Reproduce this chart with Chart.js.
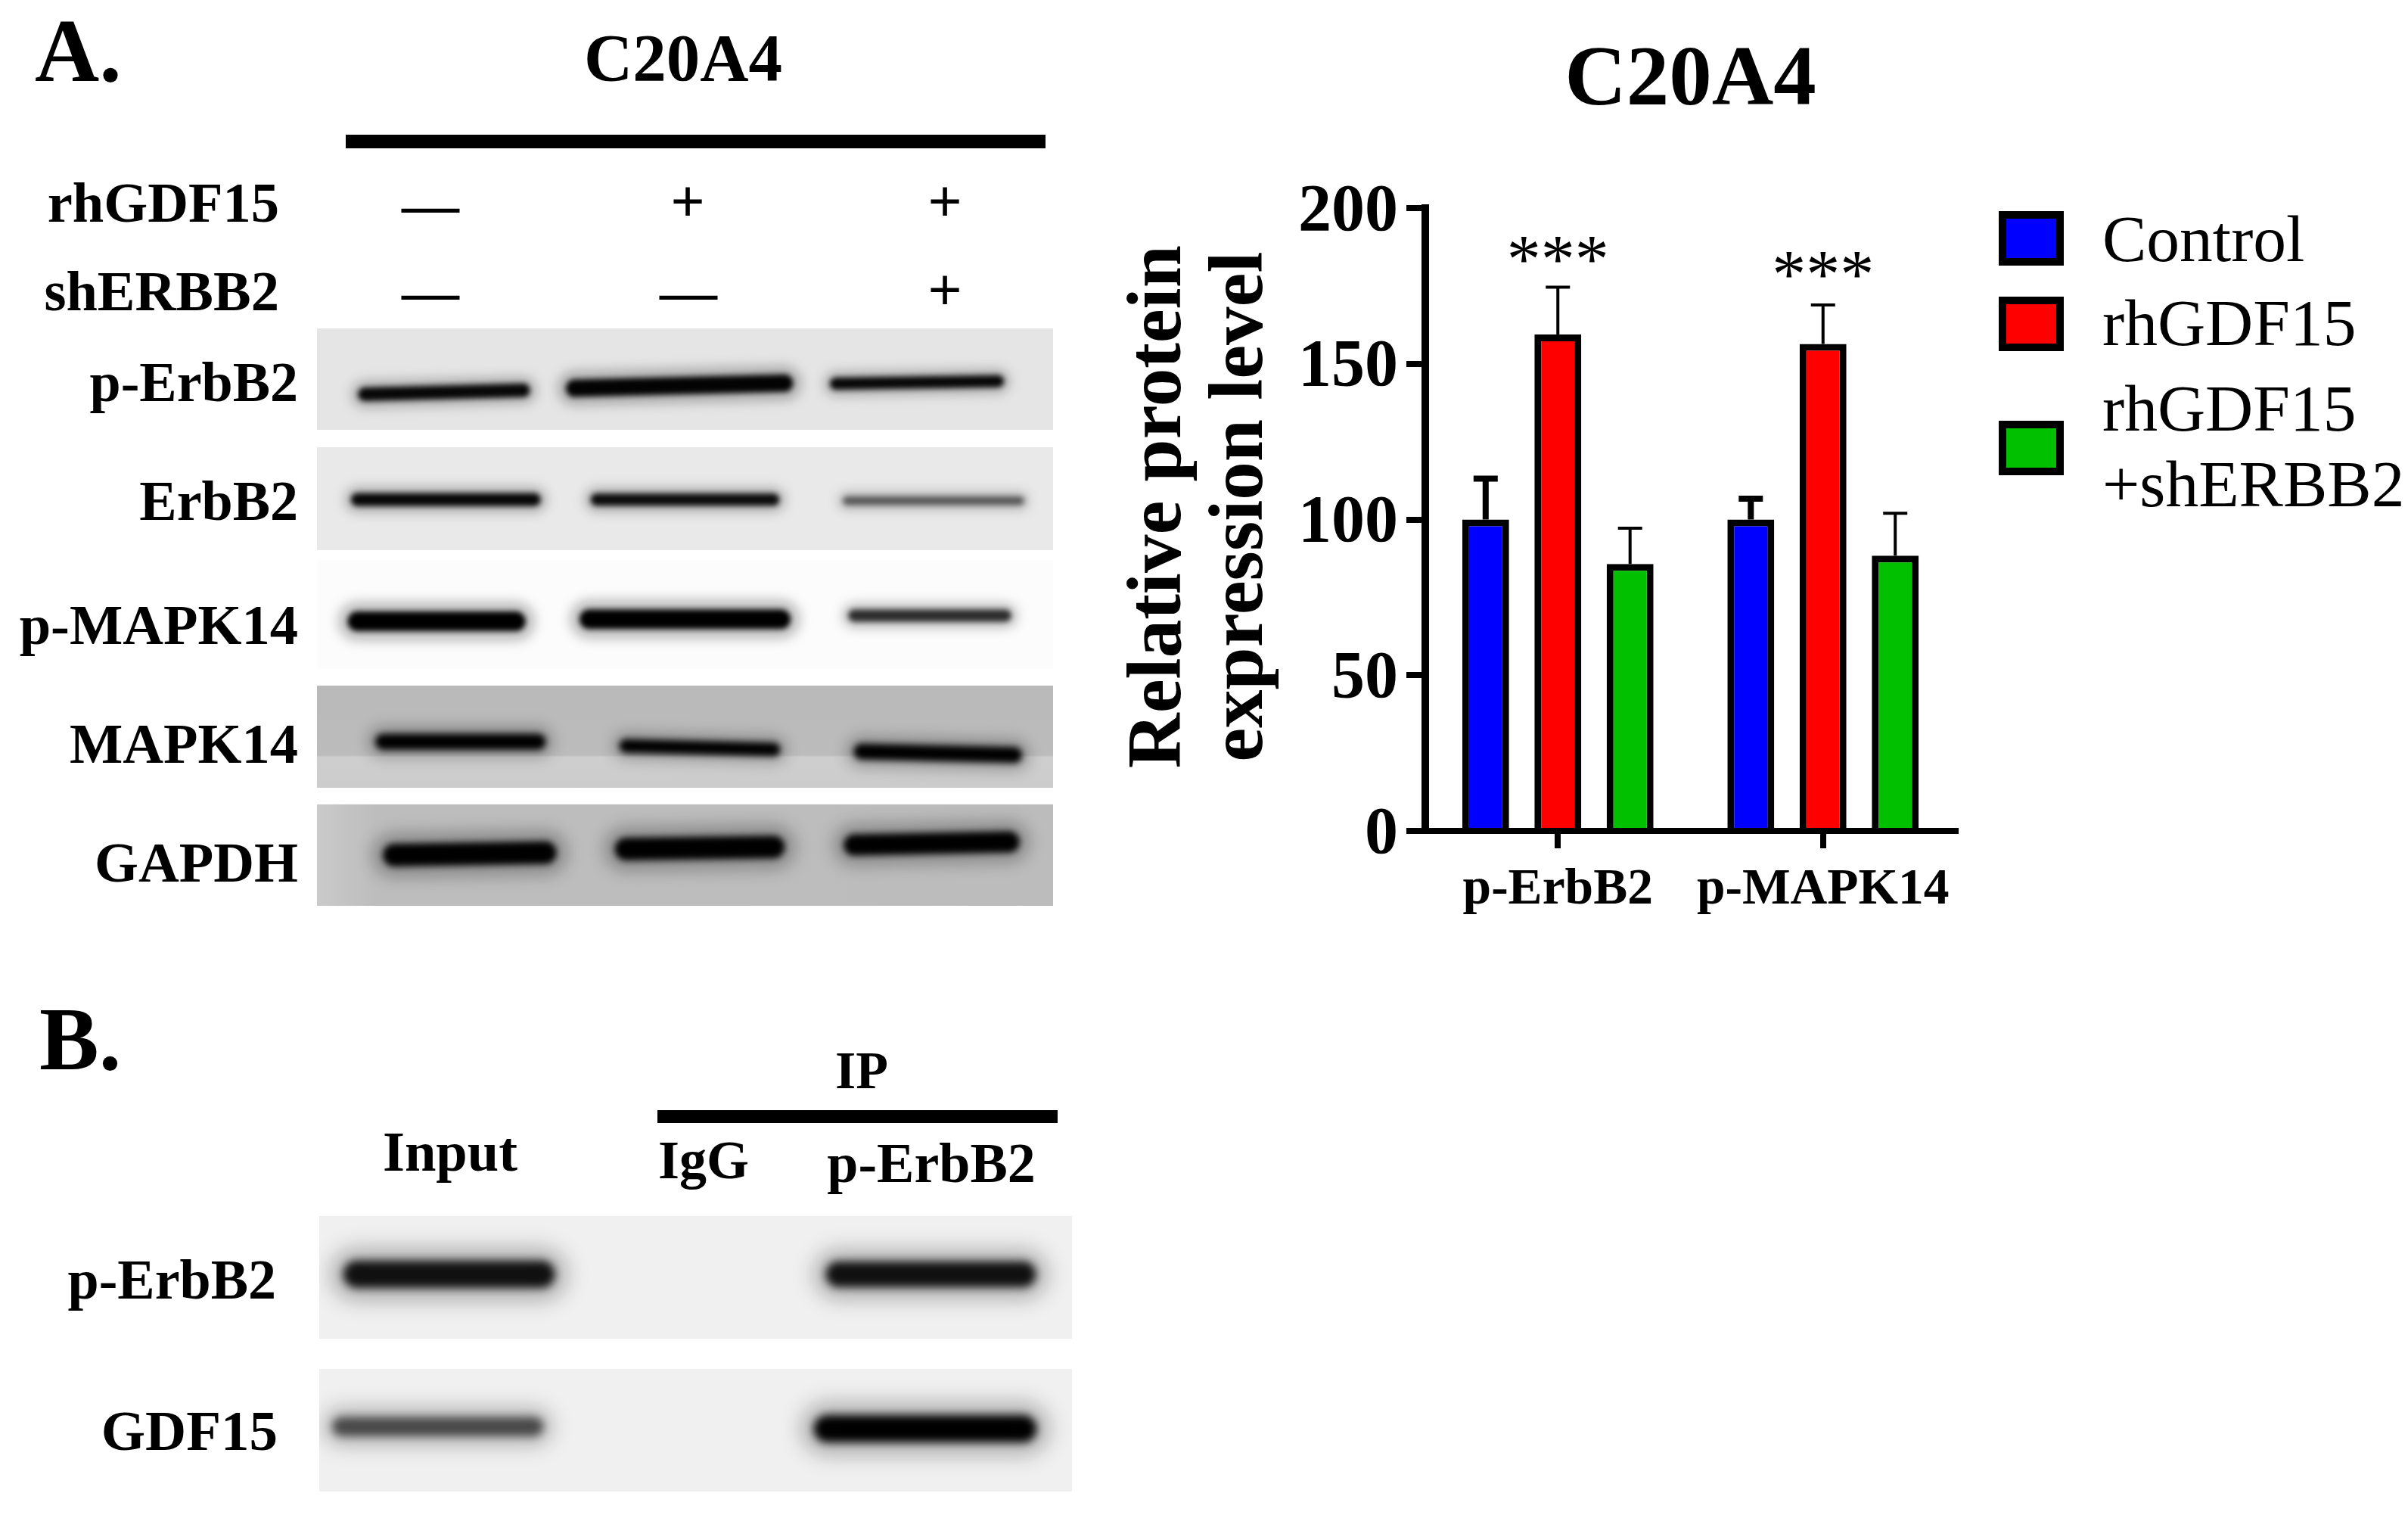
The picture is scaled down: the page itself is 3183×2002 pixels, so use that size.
<!DOCTYPE html>
<html>
<head>
<meta charset="utf-8">
<title>C20A4</title>
<script src="https://cdn.jsdelivr.net/npm/chart.js@4"></script>
<style>
  html, body { margin: 0; padding: 0; background: #fff; }
  body { position: relative; width: 3183px; height: 2002px; overflow: hidden; font-family: "Liberation Serif", serif; color: #000; }
  canvas { position: absolute; display: block; }
  .label { position: absolute; line-height: 0; white-space: nowrap; }
  .rule, .swatch { position: absolute; box-sizing: border-box; }
  .rule { background: #000; }
  .swatch { border: 10px solid #000; }
</style>
</head>
<body>
<canvas id="bar-chart" width="1743" height="1240" style="left:1440px;top:0"></canvas>
<script>
// Bar chart values
const categories = ['p-ErbB2', 'p-MAPK14'];
const seriesNames = ['Control', 'rhGDF15', 'rhGDF15 +shERBB2'];
const controlValues = [100, 100];
const rhgdf15Values = [159.4, 156.4];
const shErbb2Values = [85.7, 88.4];
const controlErrorTops = [113.1, 106.7];
const rhgdf15ErrorTops = [174.6, 168.9];
const shErbb2ErrorTops = [97.2, 102];
const significance = ['***', '***'];
const significanceLevels = [176.3, 171.3];
const yTicks = [0, 50, 100, 150, 200];
const seriesColors = ['#0000ff', '#ff0000', '#00c000'];
const errorWidths = [8, 4, 4];

// Blot bands, in percent of the gel panel: [x start, y start, x end, y end]
const pErbB2Bands = [[6.5, 65, 28, 61], [35, 59, 63.5, 54], [70.5, 54.5, 92.5, 52]];
const erbB2Bands = [[5.5, 51, 29.5, 51], [38, 51, 62, 51], [72, 52, 95.5, 52]];
const pMapk14Bands = [[5.5, 56.3, 27, 56.3], [37, 54.3, 63, 54.3], [73, 51, 93.5, 51]];
const mapk14Bands = [[9, 55, 30, 55], [42, 59, 62, 62.5], [74, 64.7, 94.7, 68]];
const gapdhBands = [[10.5, 50, 31, 47.6], [42, 44, 62, 42], [73, 40, 94, 37]];
const ipErbB2Bands = [[5, 47.5, 29.5, 47.5], [69, 47.5, 93.5, 47.5]];
const ipGdf15Bands = [[3, 47, 28.5, 47], [67.5, 48.8, 93.5, 48.8]];

const FONT = '"Liberation Serif", serif';

// Gel panels: where they sit, and how each band is drawn (width in px, gray)
const blotPanels = [
  { bands: pErbB2Bands, left: 419, top: 434, width: 973, height: 134, bg: '#e5e5e5', widths: [18, 23, 16], colors: ['#0a0a0a', '#050505', '#0a0a0a'], blur: 3.5 },
  { bands: erbB2Bands, left: 419, top: 591, width: 973, height: 136, bg: '#e9e9e9', widths: [17, 16, 11], colors: ['#0a0a0a', '#0f0f0f', '#707070'], blur: 3.5 },
  { bands: pMapk14Bands, left: 419, top: 740, width: 973, height: 144, bg: '#fcfcfc', widths: [26, 26, 16], colors: ['#000', '#000', '#3c3c3c'], blur: 3.5 },
  { bands: mapk14Bands, left: 419, top: 906, width: 973, height: 135, bg: 'linear-gradient(#b9b9b9 0%, #bcbcbc 68%, #cecece 70%, #cccccc 100%)', widths: [21, 18, 21], colors: ['#000', '#000', '#000'], blur: 4 },
  { bands: gapdhBands, left: 419, top: 1063, width: 973, height: 134, bg: 'linear-gradient(90deg, #cacaca 0%, #bdbdbd 8%, #bcbcbc 100%)', widths: [30, 30, 28], colors: ['#000', '#000', '#000'], blur: 4.5 },
  { bands: ipErbB2Bands, left: 422, top: 1607, width: 995, height: 162, bg: '#f0f0f0', widths: [36, 34], colors: ['#161616', '#161616'], blur: 6 },
  { bands: ipGdf15Bands, left: 422, top: 1809, width: 995, height: 162, bg: '#f0f0f0', widths: [25, 36], colors: ['#606060', '#000'], blur: 6 }
];

// Text around the blots: [text, x, baseline y, font size, anchor, weight]
const figureLabels = [
  ['A.', 46, 108, 118, 'left', 'bold'],
  ['C20A4', 903, 106, 89, 'center', 'bold'],
  ['rhGDF15', 369, 293, 74.5, 'right', 'bold'],
  ['shERBB2', 369, 410, 74.5, 'right', 'bold'],
  ['\u2014', 569, 296, 76, 'center', 'bold'],
  ['+', 909, 293, 80, 'center', 'bold'],
  ['+', 1249, 293, 80, 'center', 'bold'],
  ['\u2014', 569, 411, 76, 'center', 'bold'],
  ['\u2014', 910, 411, 76, 'center', 'bold'],
  ['+', 1249, 410, 80, 'center', 'bold'],
  ['p-ErbB2', 394, 530, 74, 'right', 'bold'],
  ['ErbB2', 394, 687, 74, 'right', 'bold'],
  ['p-MAPK14', 394, 851, 74.5, 'right', 'bold'],
  ['MAPK14', 394, 1008, 74.5, 'right', 'bold'],
  ['GAPDH', 394, 1165, 74.5, 'right', 'bold'],
  ['B.', 52, 1414, 118, 'left', 'bold'],
  ['IP', 1139, 1439, 70, 'center', 'bold'],
  ['Input', 595, 1547, 74.5, 'center', 'bold'],
  ['IgG', 930, 1557, 72, 'center', 'bold'],
  ['p-ErbB2', 1231, 1562, 74, 'center', 'bold'],
  ['p-ErbB2', 365, 1716, 74, 'right', 'bold'],
  ['GDF15', 367, 1916, 75, 'right', 'bold']
];
const figureRules = [
  { left: 457, top: 178, width: 925, height: 18 },
  { left: 869, top: 1467, width: 529, height: 17 }
];

// Legend: wrapped names and where each row sits
const legendLines = [['Control'], ['rhGDF15'], ['rhGDF15', '+shERBB2']];
const legendSwatchTops = [279, 392, 556];
const legendBaselines = [[346], [457], [570, 670]];

// Liberation Serif: with line-height 0 the baseline sits this far under the box top
const BASELINE_SHIFT = 0.3375;

function addLabel(text, x, baseline, size, anchor, weight) {
  const el = document.createElement('div');
  el.className = 'label';
  el.textContent = text;
  el.style.fontSize = size + 'px';
  el.style.fontWeight = weight;
  el.style.top = (baseline - size * BASELINE_SHIFT) + 'px';
  if (anchor === 'right') el.style.right = (3183 - x) + 'px';
  else el.style.left = x + 'px';
  if (anchor === 'center') el.style.transform = 'translateX(-50%)';
  document.body.appendChild(el);
}

function addBox(className, box, background) {
  const el = document.createElement('div');
  el.className = className;
  el.style.left = box.left + 'px';
  el.style.top = box.top + 'px';
  el.style.width = box.width + 'px';
  el.style.height = box.height + 'px';
  if (background) el.style.background = background;
  document.body.appendChild(el);
}

figureLabels.forEach(l => addLabel(l[0], l[1], l[2], l[3], l[4], l[5]));
figureRules.forEach(r => addBox('rule', r));

seriesNames.forEach((name, i) => {
  addBox('swatch', { left: 2642, top: legendSwatchTops[i], width: 86, height: 72 }, seriesColors[i]);
  legendLines[i].forEach((line, j) => addLabel(line, 2779, legendBaselines[i][j], 87.5, 'left', 'normal'));
});

// Soft edges on the gel bands, per dataset
const bandBlur = {
  id: 'bandBlur',
  beforeDatasetDraw(chart, args) {
    chart.ctx.filter = 'blur(' + chart.data.datasets[args.index].blur + 'px)';
  },
  afterDatasetDraw(chart) {
    chart.ctx.filter = 'none';
  }
};

function drawBlot(panel) {
  const canvas = document.createElement('canvas');
  canvas.width = panel.width;
  canvas.height = panel.height;
  canvas.style.left = panel.left + 'px';
  canvas.style.top = panel.top + 'px';
  canvas.style.background = panel.bg;
  document.body.appendChild(canvas);

  const datasets = [];
  panel.bands.forEach((b, i) => {
    const points = [{ x: b[0], y: b[1] }, { x: b[2], y: b[3] }];
    // faint halo first, then the dark core
    datasets.push({ data: points, borderColor: 'rgba(0,0,0,0.25)', borderWidth: panel.widths[i] * 2, blur: panel.blur * 2.2 });
    datasets.push({ data: points, borderColor: panel.colors[i], borderWidth: panel.widths[i], blur: panel.blur });
  });

  new Chart(canvas, {
    type: 'line',
    data: { datasets: datasets },
    options: {
      responsive: false,
      animation: false,
      events: [],
      parsing: false,
      elements: { point: { radius: 0 }, line: { borderCapStyle: 'round', tension: 0 } },
      layout: { padding: 0 },
      plugins: { legend: { display: false }, title: { display: false }, tooltip: { enabled: false } },
      scales: {
        x: { type: 'linear', display: false, min: 0, max: 100 },
        y: { type: 'linear', display: false, min: 0, max: 100, reverse: true }
      }
    },
    plugins: [bandBlur]
  });
}

blotPanels.forEach(drawBlot);

// One-sided error bars and the stars above the red bars
const errorTops = [controlErrorTops, rhgdf15ErrorTops, shErbb2ErrorTops];
const errorBars = {
  id: 'errorBars',
  afterDatasetsDraw(chart) {
    const ctx = chart.ctx;
    const y = chart.scales.y;
    ctx.save();
    ctx.strokeStyle = '#000';
    chart.data.datasets.forEach((ds, i) => {
      ctx.lineWidth = errorWidths[i];
      chart.getDatasetMeta(i).data.forEach((bar, j) => {
        const top = y.getPixelForValue(errorTops[i][j]);
        ctx.beginPath();
        ctx.moveTo(bar.x, y.getPixelForValue(ds.data[j]));
        ctx.lineTo(bar.x, top);
        ctx.moveTo(bar.x - 16, top);
        ctx.lineTo(bar.x + 16, top);
        ctx.stroke();
      });
    });
    ctx.fillStyle = '#000';
    ctx.font = '90px ' + FONT;
    ctx.textAlign = 'center';
    ctx.textBaseline = 'alphabetic';
    const redBars = chart.getDatasetMeta(1).data;
    significance.forEach((mark, j) => {
      ctx.fillText(mark, redBars[j].x, y.getPixelForValue(significanceLevels[j]));
    });
    ctx.restore();
  }
};

function barDataset(i, values) {
  return {
    label: seriesNames[i],
    data: values,
    backgroundColor: seriesColors[i],
    borderColor: '#000',
    borderWidth: 9,
    borderSkipped: 'bottom'
  };
}

new Chart(document.getElementById('bar-chart'), {
  type: 'bar',
  data: {
    labels: categories,
    datasets: [barDataset(0, controlValues), barDataset(1, rhgdf15Values), barDataset(2, shErbb2Values)]
  },
  options: {
    responsive: false,
    animation: false,
    events: [],
    categoryPercentage: 0.817,
    barPercentage: 0.649,
    layout: { padding: { left: 20, right: 598, top: 0, bottom: 0 } },
    plugins: {
      legend: { display: false },
      tooltip: { enabled: false },
      title: {
        display: true,
        fullSize: false,
        text: 'C20A4',
        color: '#000',
        font: { family: FONT, size: 113, weight: 'bold', lineHeight: 1 },
        padding: { top: 52, bottom: 110 }
      }
    },
    scales: {
      x: {
        grid: { offset: false, drawOnChartArea: false, color: '#000', lineWidth: 8, tickLength: 23 },
        border: { color: '#000', width: 8 },
        ticks: {
          color: '#000',
          padding: 15,
          maxRotation: 0,
          autoSkip: false,
          font: { family: FONT, size: 67.5, weight: 'bold' }
        },
        afterFit(scale) { scale.height = 142; }
      },
      y: {
        min: 0,
        max: 200,
        afterBuildTicks(scale) { scale.ticks = yTicks.map(v => ({ value: v })); },
        grid: { drawOnChartArea: false, color: '#000', lineWidth: 8, tickLength: 25 },
        border: { color: '#000', width: 10 },
        ticks: {
          color: '#000',
          padding: 11,
          labelOffset: 6,
          font: { family: FONT, size: 88, weight: 'bold' }
        },
        title: {
          display: true,
          // the three-per-em space lifts the lines: the original title sits above the axis centre
          text: ['\u2004Relative protein', '\u2004expression level'],
          color: '#000',
          font: { family: FONT, size: 101, weight: 'bold', lineHeight: 1.07 },
          padding: { top: 20, bottom: 0 }
        },
        afterFit(scale) { scale.width = 424; }
      }
    }
  },
  plugins: [errorBars]
});
</script>
</body>
</html>
